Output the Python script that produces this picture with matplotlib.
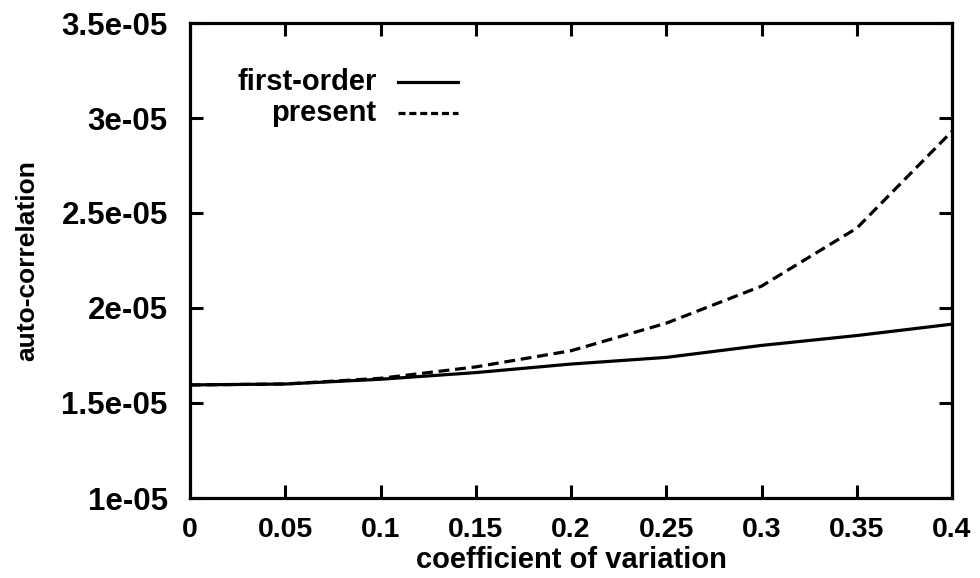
import matplotlib
matplotlib.use("Agg")
import matplotlib.pyplot as plt
from matplotlib.lines import Line2D

x_values = [0.0, 0.05, 0.1, 0.15, 0.2, 0.25, 0.3, 0.35, 0.4]
first_order = [1.595e-05, 1.60e-05, 1.625e-05, 1.66e-05, 1.705e-05, 1.74e-05, 1.803e-05, 1.855e-05, 1.915e-05]
present = [1.595e-05, 1.60e-05, 1.63e-05, 1.69e-05, 1.775e-05, 1.92e-05, 2.115e-05, 2.42e-05, 2.93e-05]
series_names = ["first-order", "present"]
x_ticks = [0, 0.05, 0.1, 0.15, 0.2, 0.25, 0.3, 0.35, 0.4]
x_tick_labels = ["0", "0.05", "0.1", "0.15", "0.2", "0.25", "0.3", "0.35", "0.4"]
y_ticks = [1e-05, 1.5e-05, 2e-05, 2.5e-05, 3e-05, 3.5e-05]
y_tick_labels = ["1e-05", "1.5e-05", "2e-05", "2.5e-05", "3e-05", "3.5e-05"]

plt.rcParams['font.family'] = ['Liberation Sans', 'DejaVu Sans']
plt.rcParams['font.weight'] = 'bold'

fig = plt.figure(figsize=(9.8, 5.78), dpi=100)
W, H = 980, 578
ax = fig.add_axes([190 / W, 1 - 498 / H, (952 - 190) / W, (498 - 23) / H])

LW = 2.3
DASH = (3.4, 1.8)
ax.plot(x_values, first_order, color='black', lw=LW)
ax.plot(x_values, present, color='black', lw=LW, dashes=DASH)

ax.set_xlim(0, 0.4)
ax.set_ylim(1e-05, 3.5e-05)
ax.set_xticks(x_ticks)
ax.set_xticklabels(x_tick_labels, fontsize=20.5, fontweight='bold')
ax.set_yticks(y_ticks)
ax.set_yticklabels(y_tick_labels, fontsize=22.5, fontweight='bold')
ax.tick_params(direction='in', length=9.5, width=2.2, top=True, right=True)
ax.tick_params(axis='x', pad=14)
ax.tick_params(axis='y', pad=16)
for s in ax.spines.values():
    s.set_linewidth(2.3)

ax.set_xlabel("coefficient of variation", fontsize=21, fontweight='bold')
ax.xaxis.set_label_coords(0.5, -0.1)
ax.set_ylabel("auto-correlation", fontsize=19, fontweight='bold')
ax.yaxis.set_label_coords(-0.198, 0.5)

# gnuplot-style key: right-aligned labels with line samples to the right
text_x = 0.245
line_x = (0.273, 0.352)
key_y = [0.876, 0.811]
styles = [dict(), dict(dashes=(2.2, 1.2))]
for name, yy, st in zip(series_names, key_y, styles):
    ax.text(text_x, yy, name, transform=ax.transAxes, ha='right', va='center',
            fontsize=21, fontweight='bold')
    ax.add_line(Line2D(line_x, [yy, yy], transform=ax.transAxes, color='black',
                       lw=LW, **st))

fig.savefig("out.png", dpi=100)
